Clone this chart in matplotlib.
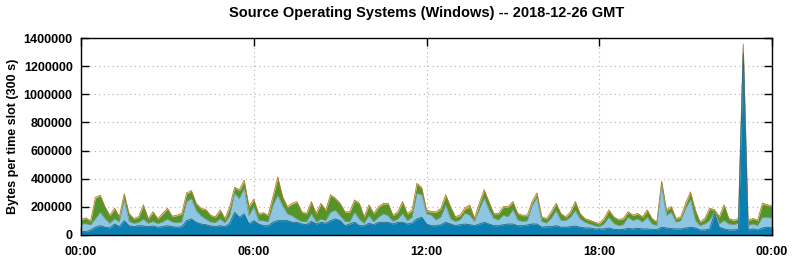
import numpy as np
import matplotlib
matplotlib.use("Agg")
import matplotlib.pyplot as plt

plt.rcParams['font.family'] = ['Liberation Sans', 'DejaVu Sans']
plt.rcParams['font.weight'] = 'bold'

# 10-minute samples, values in kB (cumulative tops)
dark = [26, 24, 35, 55, 66, 55, 50, 78, 59, 102,
        66, 59, 66, 64, 59, 64, 55, 59, 66, 59,
        55, 59, 102, 114, 90, 78, 73, 64, 59, 66,
        59, 83, 161, 126, 149, 78, 102, 78, 66, 66,
        90, 102, 102, 102, 90, 90, 78, 73, 97, 78,
        90, 83, 102, 114, 102, 66, 78, 90, 66, 66,
        83, 73, 90, 90, 90, 78, 90, 90, 78, 85,
        114, 126, 78, 66, 66, 73, 90, 78, 66, 73,
        78, 73, 66, 78, 90, 78, 66, 66, 73, 78,
        78, 66, 66, 71, 78, 78, 55, 59, 59, 66,
        55, 55, 59, 64, 55, 50, 50, 43, 43, 43,
        50, 40, 38, 40, 47, 43, 47, 43, 43, 40,
        38, 55, 50, 45, 43, 43, 50, 55, 50, 36,
        36, 43, 150, 55, 43, 36, 36, 40, 1290, 36,
        43, 36, 50, 55, 50]

light = [75, 80, 70, 115, 160, 115, 82, 115, 92, 250,
         95, 82, 88, 112, 82, 95, 80, 92, 112, 92,
         86, 92, 235, 258, 172, 136, 112, 92, 88, 112,
         86, 136, 295, 258, 330, 136, 198, 102, 100, 92,
         208, 282, 208, 150, 136, 112, 96, 92, 150, 92,
         112, 102, 160, 175, 136, 96, 92, 160, 112, 82,
         136, 92, 125, 150, 136, 96, 112, 150, 102, 125,
         295, 285, 150, 140, 105, 128, 210, 115, 95, 108,
         155, 140, 96, 178, 262, 178, 118, 106, 140, 128,
         178, 106, 96, 100, 205, 264, 96, 84, 118, 172,
         102, 102, 125, 173, 114, 90, 78, 66, 59, 78,
         125, 83, 66, 73, 125, 102, 114, 90, 125, 78,
         66, 350, 137, 161, 90, 102, 185, 250, 102, 66,
         78, 102, 160, 78, 102, 78, 73, 83, 1310, 66,
         78, 66, 125, 125, 120]

green = [107, 118, 97, 263, 277, 197, 137, 185, 126, 287,
         149, 114, 126, 209, 114, 161, 114, 149, 185, 130,
         137, 149, 292, 310, 220, 185, 178, 137, 126, 173,
         114, 197, 334, 315, 382, 197, 249, 149, 154, 137,
         268, 405, 268, 197, 220, 232, 161, 149, 232, 149,
         220, 173, 280, 256, 220, 161, 161, 244, 220, 126,
         209, 149, 197, 220, 220, 137, 161, 232, 149, 173,
         360, 330, 168, 161, 161, 185, 280, 197, 126, 137,
         185, 197, 114, 220, 315, 232, 149, 149, 197, 197,
         232, 149, 137, 137, 232, 292, 126, 114, 161, 220,
         149, 126, 161, 232, 149, 114, 102, 90, 78, 114,
         173, 126, 107, 114, 161, 137, 149, 126, 173, 114,
         90, 375, 173, 197, 114, 126, 220, 300, 173, 90,
         114, 185, 175, 126, 209, 114, 102, 114, 1345, 102,
         114, 102, 220, 209, 200]

# thin top layer (thickness)
orange = [3, 4, 3, 5, 6, 4, 3, 5, 4, 6,
          4, 3, 4, 5, 3, 4, 3, 4, 5, 4,
          4, 5, 6, 6, 5, 4, 4, 3, 4, 5,
          3, 5, 6, 6, 7, 4, 5, 4, 4, 4,
          6, 7, 5, 4, 5, 5, 4, 4, 5, 4,
          5, 4, 6, 5, 5, 4, 4, 5, 5, 3,
          5, 4, 5, 5, 5, 4, 4, 6, 4, 5,
          7, 6, 9, 6, 4, 5, 6, 5, 4, 5,
          8, 16, 5, 6, 7, 6, 4, 4, 5, 5,
          6, 4, 4, 4, 6, 7, 4, 3, 4, 5,
          4, 3, 4, 6, 4, 3, 3, 3, 3, 4,
          5, 4, 3, 3, 5, 4, 4, 4, 5, 3,
          3, 7, 5, 5, 4, 4, 6, 6, 5, 3,
          4, 5, 5, 4, 5, 4, 3, 4, 12, 3,
          4, 3, 6, 6, 6]

xtick_labels = ['00:00', '06:00', '12:00', '18:00', '00:00']

d = np.array(dark) * 1000.0
l = np.array(light) * 1000.0
g = np.array(green) * 1000.0
o = g + np.array(orange) * 1000.0
t = np.arange(len(d)) / 6.0

fig = plt.figure(figsize=(7.95, 2.6), dpi=100)
ax = fig.add_axes([0.1019, 0.0962, 0.8692, 0.7576])

ax.fill_between(t, g, o, color='#e0901c', lw=0, zorder=2)
ax.fill_between(t, l, g, color='#52962a', lw=0, zorder=2)
ax.fill_between(t, d, l, color='#8cc6e2', lw=0, zorder=2)
ax.fill_between(t, 0, d, color='#0a80b2', lw=0, zorder=2)
ax.plot(t, o, color='#b8781c', lw=0.6, zorder=3)
ax.plot(t, l, color='#7a9aa0', lw=0.6, zorder=3)
ax.plot(t, d, color='#1f6a8a', lw=0.6, zorder=3)

ax.set_xlim(0, 24)
ax.set_ylim(0, 1400000)
ax.set_xticks([0, 6, 12, 18, 24])
ax.set_xticklabels(xtick_labels)
ax.set_yticks(np.arange(0, 1400001, 200000))
ax.yaxis.set_major_formatter(matplotlib.ticker.FuncFormatter(lambda v, p: '%d' % v))

ax.set_axisbelow(True)
ax.grid(True, color='#b0b0b0', linestyle=(0, (1, 3)), lw=0.8)
for s in ax.spines.values():
    s.set_linewidth(1.0)
    s.set_zorder(5)
ax.tick_params(direction='in', length=6, width=1, top=True, right=True,
               labelsize=9)
ax.tick_params(axis='x', pad=8)
ax.tick_params(axis='y', pad=6)
for lab in ax.get_xticklabels() + ax.get_yticklabels():
    lab.set_fontweight('bold')

ax.set_ylabel('Bytes per time slot (300 s)', fontsize=9, fontweight='bold', labelpad=3)
fig.suptitle('Source Operating Systems (Windows) -- 2018-12-26 GMT', x=0.537, y=0.975,
             fontsize=10.5, fontweight='bold')

fig.savefig('out.png', dpi=100)
